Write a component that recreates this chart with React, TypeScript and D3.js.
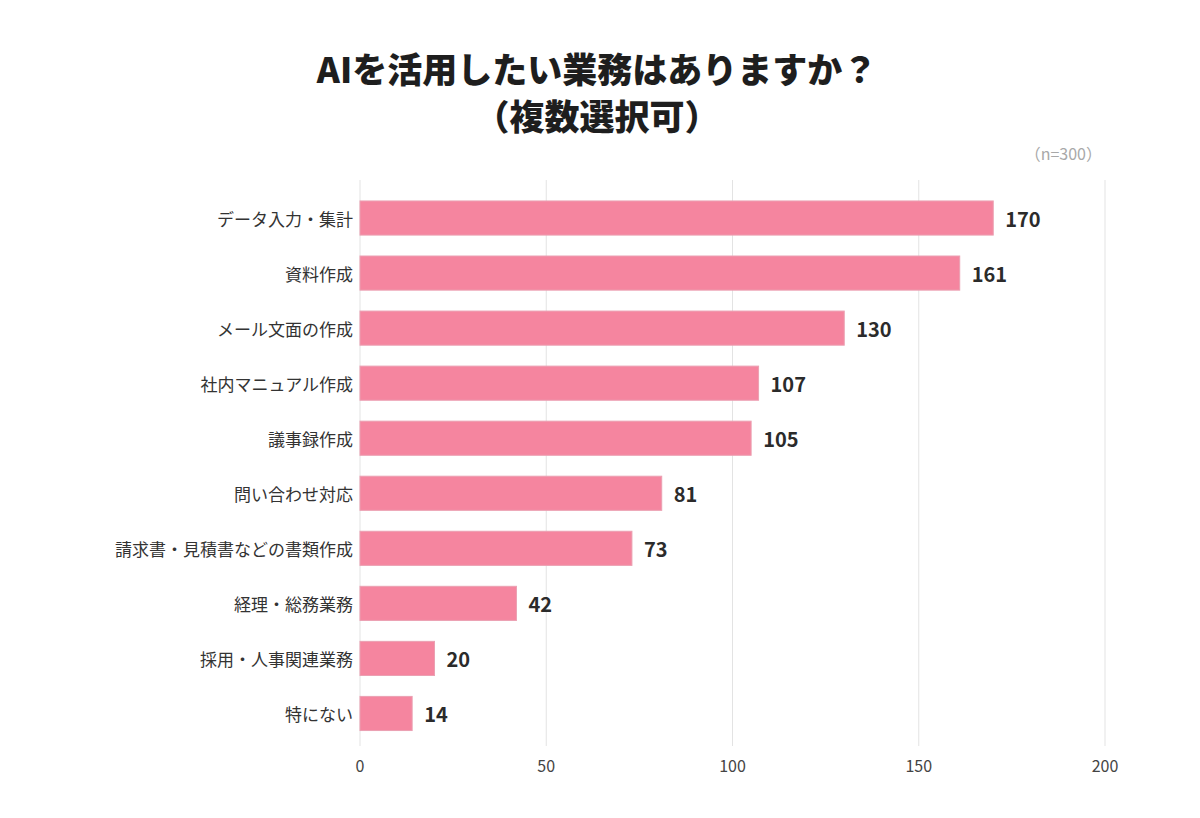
import React from "react";
import * as d3 from "d3";

const categories = [
  "データ入力・集計",
  "資料作成",
  "メール文面の作成",
  "社内マニュアル作成",
  "議事録作成",
  "問い合わせ対応",
  "請求書・見積書などの書類作成",
  "経理・総務業務",
  "採用・人事関連業務",
  "特にない",
];
const values = [170, 161, 130, 107, 105, 81, 73, 42, 20, 14];
const ticks = [0, 50, 100, 150, 200];
const titleLines = ["AIを活用したい業務はありますか？", "（複数選択可）"];
const note = "（n=300）";

const W = 1200;
const H = 818;
const FONT = "'Noto Sans CJK JP', 'Noto Sans', sans-serif";

export default function App() {
  const x = d3.scaleLinear().domain([0, 200]).range([360, 1105]);
  const y = d3.scaleBand<string>().domain(categories).range([190.5, 741]).paddingInner(0.38).paddingOuter(0.19);
  return (
    <svg width={W} height={H} style={{ position: "absolute", left: 0, top: 0, background: "#fff" }} fontFamily={FONT}>
      <rect width={W} height={H} fill="#fff" />
      {titleLines.map((t, i) => (
        <text key={i} x={597} y={83 + i * 47} textAnchor="middle" fontSize={35} fontWeight={900} fill="#1e1e1e">
          {t}
        </text>
      ))}
      <text x={1102} y={160} textAnchor="end" fontSize={16} fill="#a8a8a8">{note}</text>
      {ticks.map((t) => (
        <g key={t}>
          <line x1={x(t)} x2={x(t)} y1={180} y2={746} stroke="#e3e3e3" strokeWidth={1} />
          <text x={x(t)} y={772} textAnchor="middle" fontSize={16} fill="#444">{t}</text>
        </g>
      ))}
      {categories.map((c, i) => {
        const yy = y(c)!;
        const bh = y.bandwidth();
        return (
          <g key={c}>
            <rect x={x(0)} y={yy} width={x(values[i]) - x(0)} height={bh} fill="#f5859f" stroke="#eba0b2" strokeWidth={1} />
            <text x={353} y={yy + bh / 2} textAnchor="end" dominantBaseline="central" fontSize={17} fill="#333">{c}</text>
            <text x={x(values[i]) + 12} y={yy + bh / 2} dominantBaseline="central" fontSize={20} fontWeight={700} fill="#2b2b2b">{values[i]}</text>
          </g>
        );
      })}
    </svg>
  );
}
